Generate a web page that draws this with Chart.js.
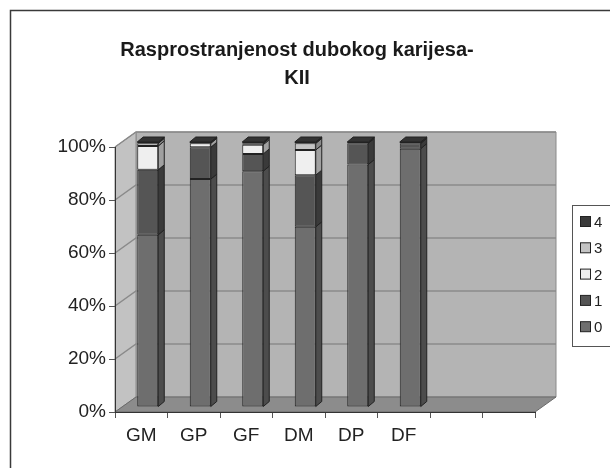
<!DOCTYPE html>
<html>
<head>
<meta charset="utf-8">
<script src="https://cdn.jsdelivr.net/npm/chart.js@4"></script>
<style>
  html, body { margin: 0; padding: 0; background: #fff; }
</style>
</head>
<body>
<canvas id="chart" width="610" height="468"></canvas>
<script>
// Data (percent of each group, stacked to 100)
const categories = ['GM', 'GP', 'GF', 'DM', 'DP', 'DF', '', ''];
const level0 = [65, 86, 89, 68, 91.5, 97.5];
const level1 = [24.5, 12, 6.5, 19.5, 8, 2];
const level2 = [9, 1.5, 3.5, 9.5, 0, 0];
const level3 = [1, 0, 0.5, 2.5, 0, 0];
const level4 = [0.5, 0.5, 0.5, 0.5, 0.5, 0.5];
const seriesNames = ['0', '1', '2', '3', '4'];
const yTicks = [0, 20, 40, 60, 80, 100];
const titleLines = ['Rasprostranjenost dubokog karijesa-', 'KII'];

// Styles
const FONT = "'Liberation Sans', Arial, sans-serif";
const fronts = ['#6e6e6e', '#555555', '#efefef', '#c4c4c4', '#3a3a3a'];
const sides  = ['#4c4c4c', '#3a3a3a', '#a0a0a0', '#8a8a8a', '#2a2a2a'];
const tops   = ['#5a5a5a', '#444444', '#cfcfcf', '#a8a8a8', '#333333'];
const WALL_DX = 21, WALL_DY = 15;   // depth of the 3D box
const BAR_OX = 6.5, BAR_OY = 5;     // bar front plane offset
const BAR_DX = 6, BAR_DY = 5;       // bar thickness

const poly = (ctx, pts, fill, stroke) => {
    ctx.beginPath();
    ctx.moveTo(pts[0][0], pts[0][1]);
    for (let i = 1; i < pts.length; i++) ctx.lineTo(pts[i][0], pts[i][1]);
    ctx.closePath();
    if (fill) { ctx.fillStyle = fill; ctx.fill(); }
    if (stroke) { ctx.strokeStyle = stroke; ctx.stroke(); }
};

const scene3d = {
    id: 'scene3d',
    beforeDraw(chart) {
        const { ctx, chartArea: a, scales: { y } } = chart;
        ctx.save();
        // outer frame
        ctx.strokeStyle = '#3a3a3a';
        ctx.lineWidth = 1.5;
        ctx.strokeRect(10.5, 10.5, 800, 800);
        ctx.lineWidth = 1;
        // back wall
        poly(ctx, [[a.left + WALL_DX, a.top - WALL_DY], [a.right + WALL_DX, a.top - WALL_DY],
                   [a.right + WALL_DX, a.bottom - WALL_DY], [a.left + WALL_DX, a.bottom - WALL_DY]], '#b4b4b4', '#8a8a8a');
        // side wall
        poly(ctx, [[a.left, a.top], [a.left + WALL_DX, a.top - WALL_DY],
                   [a.left + WALL_DX, a.bottom - WALL_DY], [a.left, a.bottom]], '#c2c2c2', '#8a8a8a');
        // floor
        poly(ctx, [[a.left, a.bottom], [a.left + WALL_DX, a.bottom - WALL_DY],
                   [a.right + WALL_DX, a.bottom - WALL_DY], [a.right, a.bottom]], '#8c8c8c', '#6a6a6a');
        // gridlines on walls
        ctx.strokeStyle = '#8a8a8a';
        ctx.lineWidth = 1.5;
        yTicks.forEach(v => {
            if (v === 0) return;
            const py = y.getPixelForValue(v);
            ctx.beginPath();
            ctx.moveTo(a.left, py);
            ctx.lineTo(a.left + WALL_DX, py - WALL_DY);
            ctx.lineTo(a.right + WALL_DX, py - WALL_DY);
            ctx.stroke();
        });
        ctx.restore();
    },
    beforeDatasetsDraw(chart) {
        chart.ctx.save();
        chart.ctx.translate(BAR_OX, -BAR_OY);
    },
    afterDatasetsDraw(chart) {
        const ctx = chart.ctx;
        ctx.restore();
        ctx.save();
        ctx.lineWidth = 1;
        const n = chart.data.datasets[0].data.length;
        for (let i = 0; i < n; i++) {
            let topDs = -1;
            chart.data.datasets.forEach((ds, d) => {
                const el = chart.getDatasetMeta(d).data[i];
                if (!el || !ds.data[i]) return;
                const { x, y, base, width } = el.getProps(['x', 'y', 'base', 'width'], true);
                const r = x + width / 2 + BAR_OX;
                const t = Math.min(y, base) - BAR_OY, b = Math.max(y, base) - BAR_OY;
                poly(ctx, [[r, t], [r + BAR_DX, t - BAR_DY], [r + BAR_DX, b - BAR_DY], [r, b]], sides[d], '#222');
                topDs = d;
            });
            if (topDs < 0) continue;
            const el = chart.getDatasetMeta(topDs).data[i];
            const { x, y, width } = el.getProps(['x', 'y', 'width'], true);
            const l = x - width / 2 + BAR_OX, r = x + width / 2 + BAR_OX, t = y - BAR_OY;
            poly(ctx, [[l, t], [l + BAR_DX, t - BAR_DY], [r + BAR_DX, t - BAR_DY], [r, t]], tops[topDs], '#222');
        }
        ctx.restore();
    },
    afterDraw(chart) {
        // legend, top series first
        const ctx = chart.ctx;
        ctx.save();
        ctx.strokeStyle = '#555';
        ctx.lineWidth = 1;
        ctx.strokeRect(572.5, 205.5, 80, 141);
        ctx.font = '15px ' + FONT;
        ctx.textBaseline = 'middle';
        const ds = chart.data.datasets;
        for (let k = 0; k < ds.length; k++) {
            const d = ds.length - 1 - k;
            const cy = 222 + k * 26.3;
            ctx.fillStyle = fronts[d];
            ctx.fillRect(580.5, cy - 5.5, 10, 10);
            ctx.strokeStyle = '#222';
            ctx.strokeRect(580.5, cy - 5.5, 10, 10);
            ctx.fillStyle = '#222';
            ctx.fillText(ds[d].label, 594, cy + 1);
        }
        ctx.restore();
    }
};

const values = [level0, level1, level2, level3, level4];
const datasets = values.map((vals, d) => ({
    label: seriesNames[d],
    data: vals,
    backgroundColor: fronts[d],
    borderColor: '#222',
    borderWidth: 1,
    borderSkipped: false,
    barPercentage: 0.4,
    categoryPercentage: 1.0,
    clip: false
}));

new Chart(document.getElementById('chart'), {
    type: 'bar',
    data: { labels: categories, datasets: datasets },
    options: {
        responsive: false,
        animation: false,
        layout: { padding: { left: 0, right: 16, top: 0, bottom: 0 } },
        plugins: {
            legend: { display: false },
            tooltip: { enabled: false },
            title: {
                display: true,
                text: titleLines,
                color: '#1a1a1a',
                font: { family: FONT, size: 20, weight: 'bold', lineHeight: 1.4 },
                padding: { top: 36, bottom: 55 }
            }
        },
        scales: {
            x: {
                stacked: true,
                grid: { offset: true, drawOnChartArea: false, drawTicks: true, tickLength: 6, color: '#555' },
                border: { display: true, color: '#333', width: 1 },
                ticks: { font: { family: FONT, size: 19 }, color: '#222', padding: 6, maxRotation: 0, autoSkip: false },
                afterFit: s => { s.height = 56; }
            },
            y: {
                stacked: true,
                min: 0,
                max: 100,
                afterBuildTicks: s => { s.ticks = yTicks.map(v => ({ value: v })); },
                ticks: { font: { family: FONT, size: 19 }, color: '#222', padding: 3, callback: v => v + '%' },
                grid: { drawOnChartArea: false, drawTicks: true, tickLength: 6, color: '#555' },
                border: { display: true, color: '#333', width: 1 },
                afterFit: s => { s.width = 115; }
            },
            // empty strip on the right that leaves room for the legend
            legendSpace: {
                type: 'linear',
                position: 'right',
                display: true,
                ticks: { display: false },
                grid: { display: false, drawTicks: false },
                border: { display: false },
                afterFit: s => { s.width = 59; }
            }
        }
    },
    plugins: [scene3d]
});
</script>
</body>
</html>
